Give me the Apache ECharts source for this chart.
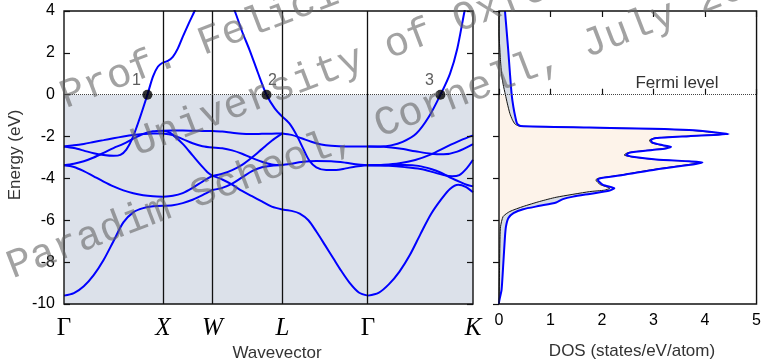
<!DOCTYPE html>
<html>
<head>
<meta charset="utf-8">
<script src="https://cdn.jsdelivr.net/npm/echarts@6/dist/echarts.min.js"></script>
<style>
html,body{margin:0;padding:0;background:#fff;}
#chart{width:764px;height:363px;}
</style>
</head>
<body>
<div id="chart"></div>
<script>
// High-symmetry points of the fcc path (path length in units of 2π/a)
const kPoints = [0, 1.0, 1.5, 2.207, 3.073, 4.134];
const kLabels = ['Γ', 'X', 'W', 'L', 'Γ', 'K'];

// Band energies (eV, relative to the Fermi level), one list of curves per path segment
const bandsGX = [
  [[0,-9.6],[0.1,-9.48],[0.2,-9.15],[0.3,-8.62],[0.4,-7.9],[0.5,-7.0],[0.6,-6.1],[0.7,-5.62],[0.8,-5.42],[0.9,-5.33],[1,-5.31]],
  [[0,-3.37],[0.1,-3.45],[0.2,-3.65],[0.3,-3.9],[0.4,-4.15],[0.5,-4.38],[0.6,-4.57],[0.7,-4.71],[0.8,-4.8],[0.9,-4.85],[1,-4.87]],
  [[0,-3.37],[0.1,-3.3],[0.2,-3.18],[0.3,-3.0],[0.4,-2.78],[0.5,-2.55],[0.6,-2.35],[0.7,-2.1],[0.8,-1.88],[0.9,-1.75],[1,-1.72]],
  [[0,-2.47],[0.1,-2.42],[0.2,-2.35],[0.3,-2.26],[0.4,-2.17],[0.5,-2.08],[0.6,-2.0],[0.7,-1.93],[0.8,-1.88],[0.9,-1.85],[1,-1.85]],
  [[0,-2.47],[0.1,-2.55],[0.2,-2.67],[0.3,-2.8],[0.4,-2.88],[0.5,-2.92],[0.57,-2.87],[0.63,-2.62],[0.69,-2.1],[0.76,-1.2],[0.843,0],[0.9,0.88],[0.95,1.35],[1,1.54]]
];
const bandsXW = [
  [[1,-5.31],[1.1,-5.28],[1.2,-5.18],[1.3,-5.02],[1.4,-4.8],[1.5,-4.55]],
  [[1,-4.87],[1.1,-4.83],[1.2,-4.7],[1.3,-4.45],[1.4,-4.15],[1.5,-3.88]],
  [[1,-1.72],[1.1,-1.71],[1.2,-1.71],[1.3,-1.72],[1.4,-1.73],[1.5,-1.73]],
  [[1,-1.72],[1.05,-1.77],[1.1,-1.92],[1.2,-2.35],[1.3,-2.9],[1.4,-3.45],[1.45,-3.7],[1.5,-3.88]],
  [[1,-1.85],[1.1,-1.93],[1.2,-2.12],[1.3,-2.32],[1.4,-2.46],[1.5,-2.52]],
  [[1,1.54],[1.05,1.62],[1.1,1.81],[1.15,2.2],[1.2,2.76],[1.26,3.4],[1.32,4.0],[1.4,4.9],[1.5,6.2]]
];
const bandsWL = [
  [[1.5,-4.55],[1.6,-4.45],[1.7,-4.25],[1.8,-3.95],[1.9,-3.65],[2.0,-3.47],[2.1,-3.39],[2.207,-3.36]],
  [[1.5,-3.88],[1.6,-3.78],[1.7,-3.6],[1.8,-3.35],[1.9,-3.0],[2.0,-2.6],[2.1,-2.2],[2.207,-1.85]],
  [[1.5,-1.73],[1.6,-1.76],[1.7,-1.82],[1.8,-1.87],[1.9,-1.88],[2.0,-1.87],[2.1,-1.86],[2.207,-1.85]],
  [[1.5,-3.88],[1.6,-4.05],[1.7,-4.3],[1.8,-4.6],[1.9,-4.85],[2.0,-5.1],[2.1,-5.35],[2.207,-5.48]],
  [[1.5,-2.52],[1.6,-2.56],[1.7,-2.66],[1.8,-2.82],[1.9,-3.02],[2.0,-3.2],[2.1,-3.33],[2.207,-3.36]],
  [[1.5,6.2],[1.6,5.4],[1.726,4.0],[1.8,3.02],[1.877,2.12],[1.96,1.05],[2.047,0],[2.13,-0.65],[2.207,-1.05]]
];
const bandsLG = [
  [[2.207,-3.36],[2.3,-3.3],[2.4,-3.22],[2.55,-3.17],[2.7,-3.18],[2.85,-3.25],[2.95,-3.32],[3.073,-3.37]],
  [[2.207,-1.85],[2.3,-1.92],[2.4,-2.08],[2.5,-2.25],[2.6,-2.38],[2.7,-2.44],[2.85,-2.47],[3.073,-2.47]],
  [[2.207,-5.48],[2.3,-5.55],[2.383,-5.68],[2.47,-6.0],[2.552,-6.55],[2.64,-7.2],[2.72,-7.8],[2.8,-8.4],[2.889,-9.0],[2.98,-9.45],[3.073,-9.6]],
  [[2.207,-1.05],[2.28,-1.38],[2.35,-1.92],[2.42,-2.6],[2.48,-3.15],[2.55,-3.47],[2.65,-3.6],[2.75,-3.6],[2.85,-3.52],[2.95,-3.43],[3.073,-3.37]]
];
const bandsGK = [
  [[3.073,-3.37],[3.285,-3.36],[3.444,-3.36],[3.582,-3.4],[3.71,-3.55],[3.816,-3.74],[3.922,-4.0],[4.007,-4.18],[4.07,-4.3],[4.134,-4.38]],
  [[3.073,-2.47],[3.232,-2.49],[3.391,-2.57],[3.55,-2.7],[3.71,-2.82],[3.837,-2.85],[3.975,-2.72],[4.134,-2.36]],
  [[3.073,-2.47],[3.2,-2.47],[3.306,-2.42],[3.423,-2.25],[3.561,-1.85],[3.688,-1.05],[3.805,0],[3.901,1.0],[3.975,2.2],[4.049,4.0],[4.134,5.8]],
  [[3.073,-9.6],[3.179,-9.47],[3.285,-9.05],[3.391,-8.45],[3.497,-7.65],[3.604,-6.65],[3.71,-5.7],[3.816,-4.98],[3.901,-4.5],[3.985,-4.3],[4.06,-4.4],[4.134,-4.66]],
  [[3.073,-3.37],[3.285,-3.4],[3.444,-3.46],[3.604,-3.55],[3.731,-3.7],[3.837,-3.84],[3.922,-3.9],[3.996,-3.84],[4.07,-3.52],[4.134,-3.11]],
  [[3.073,-3.37],[3.232,-3.35],[3.391,-3.28],[3.55,-3.12],[3.71,-2.85],[3.869,-2.48],[4.007,-2.18],[4.134,-1.94]]
];

// Fermi-surface crossings marked on the bands
const crossingK = [0.843, 2.047, 3.805];
const crossingLabels = ['1', '2', '3'];

// Density of states: [states/eV/atom, energy in eV]
const dosTotal = [[0.116,4.0],[0.15,3.0],[0.18,2.1],[0.21,1.1],[0.246,0],[0.28,-0.6],[0.32,-1.1],[0.35,-1.38],[0.42,-1.5],
  [1.76,-1.57],[2.98,-1.63],[3.69,-1.69],[4.21,-1.8],[4.46,-1.88],[3.69,-1.98],[3.05,-2.07],[2.95,-2.17],[2.98,-2.29],
  [3.18,-2.41],[3.34,-2.49],[3.24,-2.57],[2.98,-2.64],[2.53,-2.77],[2.47,-2.88],[2.59,-2.96],[3.05,-3.09],[3.69,-3.18],
  [3.95,-3.23],[3.82,-3.31],[3.05,-3.57],[2.4,-3.84],[1.95,-4.0],[1.92,-4.07],[2.02,-4.31],[2.24,-4.47],[2.15,-4.58],
  [1.76,-4.74],[1.44,-4.87],[1.24,-4.99],[1.11,-5.15],[0.79,-5.31],[0.47,-5.47],[0.28,-5.66],[0.18,-5.9],[0.135,-6.3],
  [0.116,-6.78],[0.084,-8.05],[0.05,-9.32],[0.0,-9.95],[0,-10]];
const dosPartial = [[0,4.0],[0,2.9],[0.01,2.45],[0.03,1.6],[0.05,1.0],[0.08,0.5],[0.124,0],[0.16,-0.4],[0.21,-0.89],
  [0.26,-1.2],[0.31,-1.4],[0.37,-1.48],[0.44,-1.51],[1.76,-1.57],[2.98,-1.63],[3.65,-1.69],[4.15,-1.8],[4.4,-1.88],
  [3.65,-1.98],[3.02,-2.07],[2.92,-2.17],[2.95,-2.29],[3.14,-2.41],[3.3,-2.49],[3.2,-2.57],[2.94,-2.64],[2.5,-2.77],
  [2.43,-2.88],[2.55,-2.96],[3.0,-3.09],[3.62,-3.18],[3.86,-3.23],[3.75,-3.31],[3.0,-3.57],[2.35,-3.84],[1.92,-4.0],
  [1.88,-4.07],[1.97,-4.3],[2.15,-4.47],[2.05,-4.56],[1.76,-4.63],[1.11,-4.9],[0.79,-5.1],[0.47,-5.34],[0.21,-5.58],
  [0.08,-5.82],[0.03,-6.3],[0.02,-6.78],[0.01,-8.4],[0,-9.95],[0,-10]];

const BLUE = '#0000ff';
const SANS = 'Liberation Sans';

const chart = echarts.init(document.getElementById('chart'), null, {renderer: 'canvas'});

const bandSeries = [];
[bandsGX, bandsXW, bandsWL, bandsLG, bandsGK].forEach(seg => {
  seg.forEach(curve => {
    bandSeries.push({
      type: 'line', xAxisIndex: 0, yAxisIndex: 0, data: curve,
      smooth: 0.3, showSymbol: false, symbol: 'none', silent: true, clip: true, z: 3,
      lineStyle: {color: BLUE, width: 2}
    });
  });
});

// occupied states (below E_F) and the gap between the two DOS curves
const occupiedPoly = [[0, 0]].concat(dosPartial.filter(p => p[1] <= 0));
const betweenPoly = dosPartial.concat(dosTotal.slice().reverse());

function polygonSeries(points, fill, z) {
  return {
    type: 'custom', xAxisIndex: 1, yAxisIndex: 2, data: [[0, 0]], silent: true, clip: true, z: z,
    renderItem: (params, api) => ({
      type: 'polygon',
      shape: {points: points.map(p => api.coord(p))},
      style: {fill: fill}
    })
  };
}

const tickStyle = {show: true, inside: true, length: 6, lineStyle: {color: '#111', width: 1.2}};

const option = {
  animation: false,
  backgroundColor: '#ffffff',
  grid: [
    {left: 64, top: 11, width: 409, height: 293, show: true, borderColor: '#111', borderWidth: 1.4, z: 10},
    {left: 499, top: 11, width: 259, height: 293, show: true, borderColor: '#111', borderWidth: 1.4, z: 10}
  ],
  xAxis: [
    {
      gridIndex: 0, type: 'value', min: 0, max: kPoints[kPoints.length - 1], z: 10,
      axisLine: {show: false}, axisTick: {show: false}, splitLine: {show: false},
      axisLabel: {
        show: true, customValues: kPoints, margin: 11, showMinLabel: true, showMaxLabel: true,
        formatter: (v, i) => {
          const idx = kPoints.findIndex(k => Math.abs(k - v) < 1e-6);
          const name = kLabels[idx >= 0 ? idx : i];
          return name === 'Γ' ? '{g|' + name + '}' : '{i|' + name + '}';
        },
        rich: {
          g: {fontFamily: 'Liberation Serif', fontSize: 25, fontStyle: 'normal', color: '#000', lineHeight: 26},
          i: {fontFamily: 'Liberation Serif', fontSize: 25, fontStyle: 'italic', color: '#000', lineHeight: 26}
        }
      }
    },
    {
      gridIndex: 1, type: 'value', min: 0, max: 5, interval: 1, z: 10,
      axisLine: {show: false}, axisTick: tickStyle, splitLine: {show: false},
      axisLabel: {margin: 9, fontFamily: SANS, fontSize: 16, color: '#000'}
    },
    {
      gridIndex: 1, type: 'value', position: 'top', min: 0, max: 5, interval: 1, z: 10,
      axisLine: {show: false}, axisTick: tickStyle, splitLine: {show: false}, axisLabel: {show: false}
    }
  ],
  yAxis: [
    {
      gridIndex: 0, type: 'value', min: -10, max: 4, interval: 2, z: 10,
      axisLine: {show: false}, axisTick: tickStyle, splitLine: {show: false},
      axisLabel: {margin: 9, fontFamily: SANS, fontSize: 16, color: '#000'}
    },
    {
      gridIndex: 0, type: 'value', position: 'right', min: -10, max: 4, interval: 2, z: 10,
      axisLine: {show: false}, axisTick: tickStyle, splitLine: {show: false}, axisLabel: {show: false}
    },
    {
      gridIndex: 1, type: 'value', position: 'right', min: -10, max: 4, interval: 2, z: 10,
      axisLine: {show: false}, axisTick: tickStyle, splitLine: {show: false}, axisLabel: {show: false}
    }
  ],
  series: [
    // occupied part of the band panel
    {
      type: 'line', xAxisIndex: 0, yAxisIndex: 0, data: [], silent: true, z: 1,
      markArea: {silent: true, itemStyle: {color: '#dce1ea'}, data: [[{yAxis: -10}, {yAxis: 0}]]}
    },
    // high-symmetry verticals and the Fermi level
    {
      type: 'line', xAxisIndex: 0, yAxisIndex: 0, data: [], silent: true, z: 2,
      markLine: {
        silent: true, symbol: ['none', 'none'], label: {show: false},
        lineStyle: {color: '#111', width: 1.3, type: 'solid'},
        data: kPoints.slice(1, -1).map(k => ({xAxis: k})).concat([
          {yAxis: 0, lineStyle: {type: 'dotted', color: '#444', width: 1}}
        ])
      }
    },
    ...bandSeries,
    {
      type: 'scatter', xAxisIndex: 0, yAxisIndex: 0, silent: true, z: 5,
      symbol: 'circle', symbolSize: 10, itemStyle: {color: '#000'},
      data: crossingK.map((k, i) => ({
        value: [k, 0],
        label: {
          show: true, formatter: crossingLabels[i],
          position: [i === 1 ? 11 : -6, -9], align: 'center', verticalAlign: 'middle',
          fontFamily: SANS, fontSize: 16, color: '#333'
        }
      }))
    },
    polygonSeries(occupiedPoly, '#fdf3ea', 1),
    polygonSeries(betweenPoly, '#d6dce6', 1),
    {
      type: 'line', xAxisIndex: 1, yAxisIndex: 2, data: dosPartial, smooth: 0.2,
      showSymbol: false, symbol: 'none', silent: true, z: 3, lineStyle: {color: '#111', width: 1}
    },
    {
      type: 'line', xAxisIndex: 1, yAxisIndex: 2, data: dosTotal, smooth: 0.2,
      showSymbol: false, symbol: 'none', silent: true, z: 4, lineStyle: {color: BLUE, width: 2}
    },
    {
      type: 'line', xAxisIndex: 1, yAxisIndex: 2, data: [], silent: true, z: 5,
      markLine: {
        silent: true, symbol: ['none', 'none'], label: {show: false},
        lineStyle: {type: 'dotted', color: '#444', width: 1},
        data: [{yAxis: 0}]
      }
    }
  ],
  graphic: [
    {type: 'text', x: 15, y: 155, rotation: Math.PI / 2, z: 20,
      style: {text: 'Energy (eV)', font: '17px "Liberation Sans"', fill: '#333', align: 'center', verticalAlign: 'middle'}},
    {type: 'text', x: 277, y: 353, z: 20,
      style: {text: 'Wavevector', font: '17px "Liberation Sans"', fill: '#333', align: 'center', verticalAlign: 'middle'}},
    {type: 'text', x: 632, y: 351, z: 20,
      style: {text: 'DOS (states/eV/atom)', font: '17px "Liberation Sans"', fill: '#333', align: 'center', verticalAlign: 'middle'}},
    {type: 'text', x: 677, y: 83, z: 20,
      style: {text: 'Fermi level', font: '17px "Liberation Sans"', fill: '#333', align: 'center', verticalAlign: 'middle'}},
    // credit stamp across the figure
    {type: 'text', x: 374, y: 53, rotation: 0.367, z: 100, silent: true,
      style: {
        text: 'Prof. Feliciano Giustino,\nUniversity of Oxford,\nParadim School, Cornell, July 2018',
        font: '41px "Liberation Mono"', lineHeight: 70, fill: 'rgba(100,100,100,0.6)',
        align: 'center', verticalAlign: 'middle'
      }}
  ]
};

chart.setOption(option);
</script>
</body>
</html>
